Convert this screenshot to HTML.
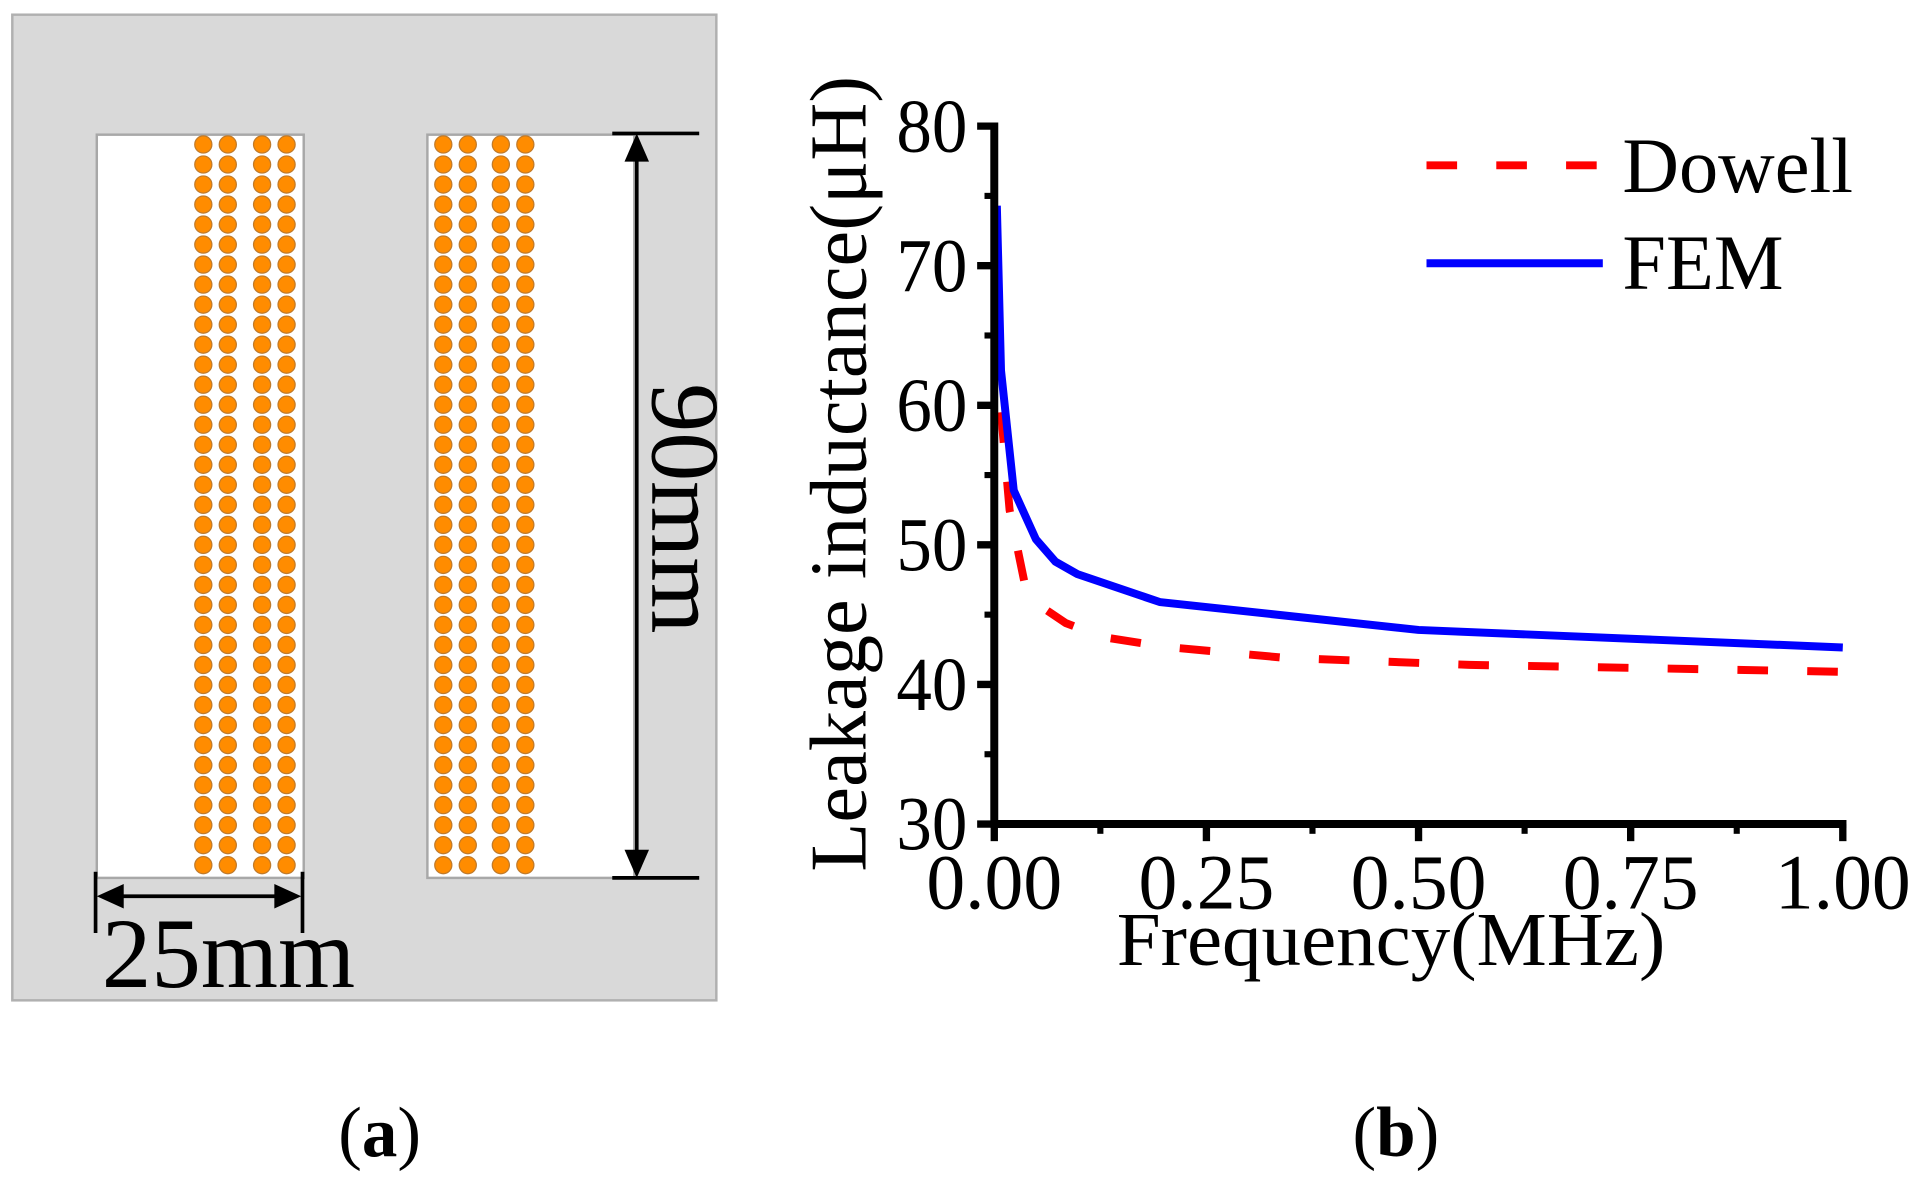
<!DOCTYPE html>
<html><head><meta charset="utf-8"><style>
html,body{margin:0;padding:0;background:#fff;}
svg{display:block;font-family:"Liberation Serif",serif;}
</style></head><body>
<svg id="fig" width="1920" height="1184" viewBox="0 0 1568 967" xmlns="http://www.w3.org/2000/svg">
<g>
  <rect x="10" y="12" width="575" height="805" fill="#d9d9d9" stroke="#b0b0b0" stroke-width="2"/>
  <rect x="79" y="110" width="169" height="607" fill="#fff" stroke="#a8a8a8" stroke-width="2"/>
  <rect x="349" y="110" width="169" height="607" fill="#fff" stroke="#a8a8a8" stroke-width="2"/>
  <g id="coils"></g>
  <g stroke="#000">
    <line x1="500" y1="109" x2="571" y2="109" stroke-width="3"/>
    <line x1="500" y1="717" x2="571" y2="717" stroke-width="3"/>
    <line x1="520" y1="125" x2="520" y2="702" stroke-width="3"/>
    <polygon points="520,109 510,132 530,132" fill="#000" stroke="none"/>
    <polygon points="520,717 510,694 530,694" fill="#000" stroke="none"/>
  </g>
  <text transform="translate(533,313) rotate(90)" font-size="80" fill="#000">90mm</text>
  <g stroke="#000">
    <line x1="78" y1="712" x2="78" y2="762" stroke-width="3"/>
    <line x1="247" y1="712" x2="247" y2="762" stroke-width="3"/>
    <line x1="92" y1="732" x2="233" y2="732" stroke-width="3"/>
    <polygon points="79,732 101,722 101,742" fill="#000" stroke="none"/>
    <polygon points="246,732 224,722 224,742" fill="#000" stroke="none"/>
  </g>
  <text x="83" y="806" font-size="81" fill="#000">25mm</text>
</g>
<g id="chart"></g>
<text x="310" y="944" font-size="58" text-anchor="middle">(<tspan font-weight="bold">a</tspan>)</text>
<text x="1140" y="944" font-size="58" text-anchor="middle">(<tspan font-weight="bold">b</tspan>)</text>
</svg>
<script>
const xTicks = [0, 0.25, 0.5, 0.75, 1.0];
const xTickLabels = ["0.00", "0.25", "0.50", "0.75", "1.00"];
const yTicks = [30, 40, 50, 60, 70, 80];
const yTickLabels = ["30", "40", "50", "60", "70", "80"];
const femFreq = [0.003, 0.008, 0.023, 0.049, 0.072, 0.098, 0.195, 0.5, 1.0];
const femL = [74.3, 62.5, 53.9, 50.4, 48.8, 47.9, 45.9, 43.9, 42.65];
const dowellFreq = [0.008, 0.013, 0.018, 0.037, 0.055, 0.084, 0.127, 0.2, 0.343, 0.56, 1.0];
const dowellL = [59.5, 56.0, 52.5, 46.9, 45.6, 44.4, 43.4, 42.7, 41.9, 41.4, 40.9];

const NS = "http://www.w3.org/2000/svg";
const X0 = 812, X1 = 1505, Y0 = 673, Y1 = 103;
function xs(v){ return X0 + (v - 0) / (1 - 0) * (X1 - X0); }
function ys(v){ return Y0 - (v - 30) / (80 - 30) * (Y0 - Y1); }
function mk(tag, attrs, parent){ const e = document.createElementNS(NS, tag); for (const k in attrs) e.setAttribute(k, attrs[k]); parent.appendChild(e); return e; }

const coils = document.getElementById('coils');
const colsX = [166, 186, 214, 234, 362, 382, 409, 429];
for (const cx of colsX) {
  for (let r = 0; r < 37; r++) {
    const c = mk('circle', {cx: cx, cy: 118 + r * 16.35, r: 7, fill: '#ff8c00', stroke: '#c07a2a', 'stroke-width': 1}, coils);
    
    
  }
}

const chart = document.getElementById('chart');
function series(xsArr, ysArr, color, dash, name) {
  const pts = xsArr.map((x, i) => xs(x).toFixed(1) + ',' + ys(ysArr[i]).toFixed(1)).join(' ');
  const a = {points: pts, fill: 'none', stroke: color, 'stroke-width': 6.5, 'stroke-linejoin': 'round'};
  if (dash) a['stroke-dasharray'] = dash;
  const p = mk('polyline', a, chart);
  
  
}
series(dowellFreq, dowellL, '#ff0000', '25 32', 'dowell-line');
series(femFreq, femL, '#0000ff', null, 'fem-line');

const ax = mk('line', {x1: X0, y1: Y0, x2: X1 + 3, y2: Y0, stroke: '#000', 'stroke-width': 6.5}, chart);


const ay = mk('line', {x1: X0, y1: Y0 + 3, x2: X0, y2: Y1 - 3, stroke: '#000', 'stroke-width': 6.5}, chart);



xTicks.forEach((v, i) => {
  const t = mk('line', {x1: xs(v), y1: Y0, x2: xs(v), y2: Y0 + 14, stroke: '#000', 'stroke-width': 6}, chart);
  
  
  if (i < xTicks.length - 1) {
    const m = mk('line', {x1: xs(v + 0.125), y1: Y0, x2: xs(v + 0.125), y2: Y0 + 8, stroke: '#000', 'stroke-width': 5}, chart);
    
    
  }
  const l = mk('text', {x: xs(v), y: 742, 'font-size': 64, 'text-anchor': 'middle', textLength: 111, lengthAdjust: 'spacingAndGlyphs'}, chart);
  l.textContent = xTickLabels[i];
  
  
});
yTicks.forEach((v, i) => {
  const t = mk('line', {x1: X0 - 14, y1: ys(v), x2: X0, y2: ys(v), stroke: '#000', 'stroke-width': 6}, chart);
  
  
  if (i < yTicks.length - 1) {
    const m = mk('line', {x1: X0 - 8, y1: ys(v + 5), x2: X0, y2: ys(v + 5), stroke: '#000', 'stroke-width': 5}, chart);
    
    
  }
  const l = mk('text', {x: 790, y: ys(v) + 21, 'font-size': 62, 'text-anchor': 'end', textLength: 58, lengthAdjust: 'spacingAndGlyphs'}, chart);
  l.textContent = yTickLabels[i];
  
  
});

const xt = mk('text', {x: 1136, y: 788, 'font-size': 62, 'text-anchor': 'middle', textLength: 448, lengthAdjust: 'spacingAndGlyphs'}, chart);
xt.textContent = 'Frequency(MHz)';


const yt = mk('text', {transform: 'translate(707,387) rotate(-90)', 'font-size': 66, 'text-anchor': 'middle', textLength: 650, lengthAdjust: 'spacingAndGlyphs'}, chart);
yt.textContent = 'Leakage inductance(\u03bcH)';



const lg = mk('g', {}, chart);


const l1 = mk('line', {x1: 1165, y1: 135, x2: 1309, y2: 135, stroke: '#ff0000', 'stroke-width': 6.5, 'stroke-dasharray': '25 32'}, lg);


const t1 = mk('text', {x: 1325, y: 157, 'font-size': 64}, lg);
t1.textContent = 'Dowell';


const l2 = mk('line', {x1: 1165, y1: 215, x2: 1309, y2: 215, stroke: '#0000ff', 'stroke-width': 6.5}, lg);


const t2 = mk('text', {x: 1325, y: 236, 'font-size': 64}, lg);
t2.textContent = 'FEM';


</script>
</body></html>
